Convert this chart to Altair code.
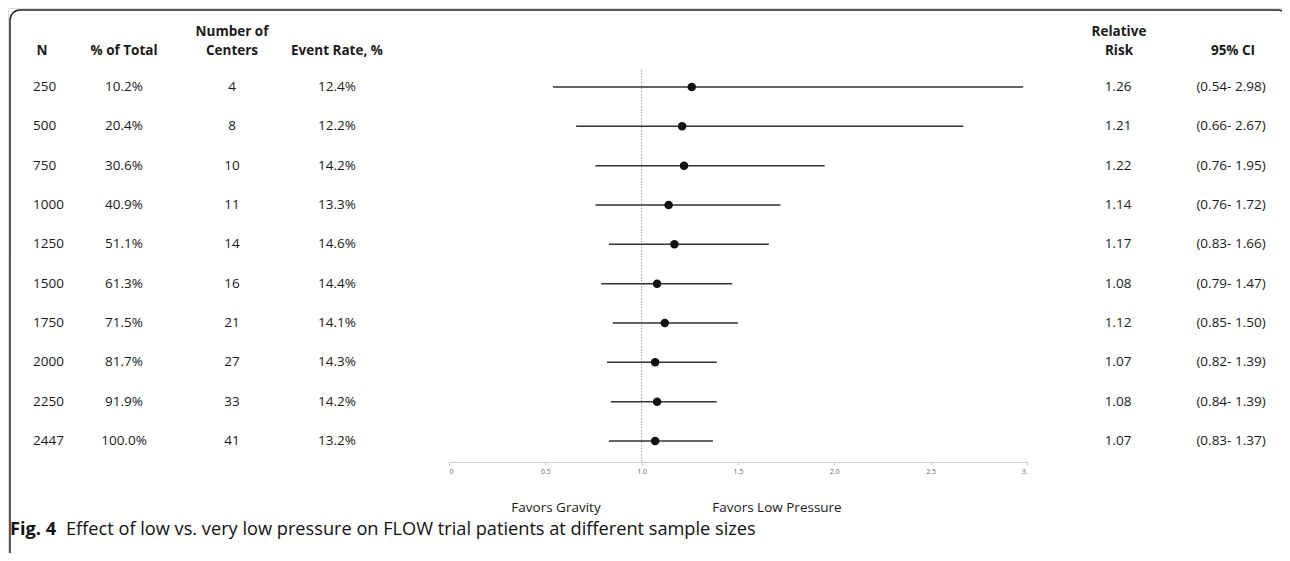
import altair as alt
import pandas as pd

# ---- data ----
n_values = ["250", "500", "750", "1000", "1250", "1500", "1750", "2000", "2250", "2447"]
pct_total = ["10.2%", "20.4%", "30.6%", "40.9%", "51.1%", "61.3%", "71.5%", "81.7%", "91.9%", "100.0%"]
centers = ["4", "8", "10", "11", "14", "16", "21", "27", "33", "41"]
event_rate = ["12.4%", "12.2%", "14.2%", "13.3%", "14.6%", "14.4%", "14.1%", "14.3%", "14.2%", "13.2%"]
rel_risk = [1.26, 1.21, 1.22, 1.14, 1.17, 1.08, 1.12, 1.07, 1.08, 1.07]
ci_low = [0.54, 0.66, 0.76, 0.76, 0.83, 0.79, 0.85, 0.82, 0.84, 0.83]
ci_high = [2.98, 2.67, 1.95, 1.72, 1.66, 1.47, 1.50, 1.39, 1.39, 1.37]

header_bottom = ["N", "% of Total", "Centers", "Event Rate, %", "Risk", "95% CI"]
header_top = ["Number of", "Relative"]
favors = ["Favors Gravity", "Favors Low Pressure"]
caption_bold = "Fig. 4"
caption_text = "Effect of low vs. very low pressure on FLOW trial patients at different sample sizes"

df = pd.DataFrame({
    "N": n_values,
    "pct": pct_total,
    "centers": centers,
    "event": event_rate,
    "rr": rel_risk,
    "lo": ci_low,
    "hi": ci_high,
})
df["rr_txt"] = [f"{v:.2f}" for v in rel_risk]
df["ci_txt"] = [f"({a:.2f}- {b:.2f})" for a, b in zip(ci_low, ci_high)]

FONT = "Open Sans"
TXT = "#1a1a1a"

W, H = 1274, 545

xscale = alt.Scale(domain=[0, 3], range=[441, 1019], nice=False, zero=False)
yscale = alt.Scale(type="point", domain=n_values, range=[79, 433], padding=0)

base = alt.Chart(df)
y_enc = alt.Y("N:N", scale=yscale, axis=None)

# table columns
def col(field, xpos, align="center"):
    return base.mark_text(font=FONT, fontSize=13.5, color=TXT, align=align, baseline="middle").encode(
        y=y_enc, x=alt.value(xpos), text=f"{field}:N"
    )

table = (
    col("N", 25, "left")
    + col("pct", 116)
    + col("centers", 224)
    + col("event", 329)
    + col("rr_txt", 1110)
    + col("ci_txt", 1223)
)

# header rows
hdr_b_df = pd.DataFrame({"h": header_bottom, "pos": [34, 116, 224, 329, 1111, 1225]})
hdr_b = alt.Chart(hdr_b_df).mark_text(
    font=FONT, fontSize=13.5, fontWeight="bold", color=TXT, align="center", baseline="middle"
).encode(x=alt.X("pos:Q", scale=None), y=alt.value(43), text="h:N")

hdr_t_df = pd.DataFrame({"h": header_top, "pos": [224, 1111]})
hdr_t = alt.Chart(hdr_t_df).mark_text(
    font=FONT, fontSize=13.5, fontWeight="bold", color=TXT, align="center", baseline="middle"
).encode(x=alt.X("pos:Q", scale=None), y=alt.value(24), text="h:N")

# reference line at RR = 1
ref = alt.Chart(pd.DataFrame({"v": [1.0]})).mark_rule(color="#999999", strokeDash=[1.5, 1.5], strokeWidth=1).encode(
    x=alt.X("v:Q", scale=xscale), y=alt.value(62), y2=alt.value(454)
)

# CI bars and points
axis = alt.Axis(
    values=[0, 0.5, 1, 1.5, 2, 2.5, 3],
    labelExpr="datum.value == 0 ? '0' : (datum.value == 3 ? '3.' : format(datum.value, '.1f'))",
    labelFontSize=7, labelColor="#666666", labelFont=FONT,
    domainColor="#cccccc", tickColor="#cccccc", tickSize=3, grid=False, title=None,
    offset=-91, labelPadding=2,
)
ci = base.mark_rule(color="#333333", strokeWidth=1.5).encode(
    x=alt.X("lo:Q", scale=xscale, axis=axis), x2="hi:Q", y=y_enc
)
pts = base.mark_point(filled=True, color="#111111", size=72, opacity=1).encode(
    x=alt.X("rr:Q", scale=xscale), y=y_enc
)

# favors labels
fav_df = pd.DataFrame({"t": favors, "pos": [548, 769]})
fav = alt.Chart(fav_df).mark_text(font=FONT, fontSize=13.5, color=TXT, align="center", baseline="middle").encode(
    x=alt.X("pos:Q", scale=None), y=alt.value(500), text="t:N"
)

# caption
cap1 = alt.Chart(pd.DataFrame({"t": [caption_bold]})).mark_text(
    font=FONT, fontSize=18.2, fontWeight="bold", color="#111111", align="left", baseline="middle"
).encode(x=alt.value(2), y=alt.value(522), text="t:N")
cap2 = alt.Chart(pd.DataFrame({"t": [caption_text]})).mark_text(
    font=FONT, fontSize=18.2, color="#111111", align="left", baseline="middle"
).encode(x=alt.value(58), y=alt.value(522), text="t:N")

# rounded frame (right and bottom sides run off the page like the reference)
frame = alt.Chart(pd.DataFrame({"a": [0]})).mark_rect(
    filled=False, stroke="#222222", strokeWidth=1.5, cornerRadius=10
).encode(x=alt.value(2), x2=alt.value(1280), y=alt.value(2), y2=alt.value(560))

chart = alt.layer(frame, ref, ci, pts, table, hdr_b, hdr_t, fav, cap1, cap2).properties(
    width=W, height=H,
    autosize=alt.AutoSizeParams(type="none"),
    padding=0,
).configure_view(stroke=None).configure(background="white")

chart.save("out.html", embed_options={"renderer": "svg", "actions": False})
